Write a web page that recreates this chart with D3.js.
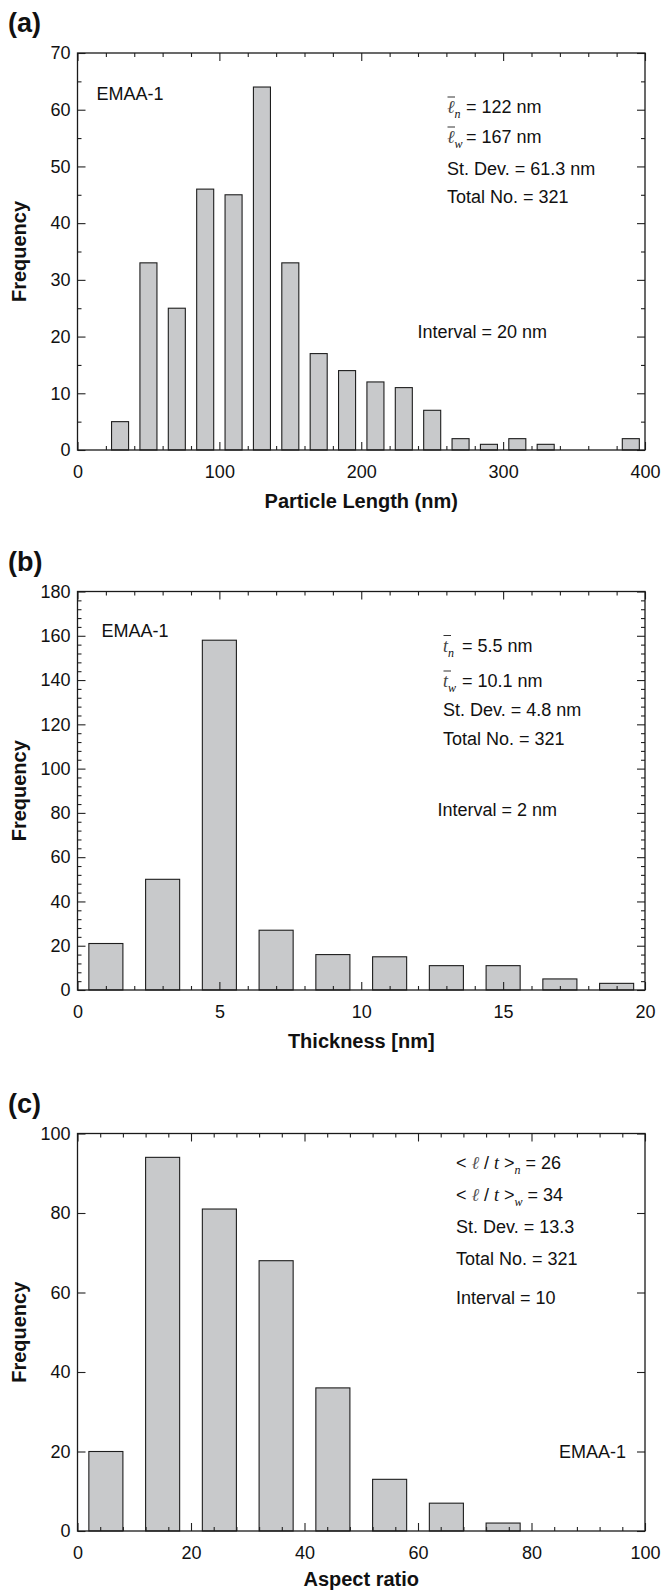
<!DOCTYPE html>
<html><head><meta charset="utf-8">
<script src="https://cdn.jsdelivr.net/npm/d3@7/dist/d3.min.js"></script>
<style>
body{margin:0;background:#fff}
svg{display:block}
text{font-family:"Liberation Sans",Arial,Helvetica,sans-serif;fill:#111}
</style>
</head><body>
<svg id="chart" width="663" height="1591"></svg>
<script>
// ---- data ----
const lengthBins = [30,50,70,90,110,130,150,170,190,210,230,250,270,290,310,330,350,370,390];
const lengthFreq = [5,33,25,46,45,64,33,17,14,12,11,7,2,1,2,1,0,0,2];
const lengthXTicks = [0,100,200,300,400];
const lengthYTicks = [0,10,20,30,40,50,60,70];

const thickBins = [1,3,5,7,9,11,13,15,17,19];
const thickFreq = [21,50,158,27,16,15,11,11,5,3];
const thickXTicks = [0,5,10,15,20];
const thickYTicks = [0,20,40,60,80,100,120,140,160,180];

const aspectBins = [5,15,25,35,45,55,65,75];
const aspectFreq = [20,94,81,68,36,13,7,2];
const aspectXTicks = [0,20,40,60,80,100];
const aspectYTicks = [0,20,40,60,80,100];

const svg = d3.select("#chart");
svg.append("rect").attr("width",663).attr("height",1591).attr("fill","#fff");

const X0 = 77.5, X1 = 645;
const SERIF = "'Liberation Serif','Times New Roman',serif";

const panels = [
  {label:"(a)", bins:lengthBins, freq:lengthFreq, interval:20, xTicks:lengthXTicks, yTicks:lengthYTicks,
   xMinor:20, yMinor:5, top:53, bottom:450, title:"Particle Length (nm)", gap:58},
  {label:"(b)", bins:thickBins, freq:thickFreq, interval:2, xTicks:thickXTicks, yTicks:thickYTicks,
   xMinor:1, yMinor:4, top:591.5, bottom:990, title:"Thickness [nm]", gap:58},
  {label:"(c)", bins:aspectBins, freq:aspectFreq, interval:10, xTicks:aspectXTicks, yTicks:aspectYTicks,
   xMinor:4, yMinor:null, top:1133.5, bottom:1531, title:"Aspect ratio", gap:55}
];

const scales = panels.map(p => {
  const g = svg.append("g");
  const xd = [p.xTicks[0], p.xTicks[p.xTicks.length-1]];
  const yd = [p.yTicks[0], p.yTicks[p.yTicks.length-1]];
  const x = d3.scaleLinear().domain(xd).range([X0, X1]);
  const y = d3.scaleLinear().domain(yd).range([p.bottom, p.top]);
  const hw = p.interval * 0.3;

  // bars
  g.selectAll("rect.bar").data(p.bins.map((b,i)=>({b, f:p.freq[i]})).filter(d=>d.f>0))
    .join("rect").attr("class","bar")
    .attr("x", d=>x(d.b-hw)).attr("width", d=>x(d.b+hw)-x(d.b-hw))
    .attr("y", d=>y(d.f)).attr("height", d=>y(0)-y(d.f))
    .attr("fill","#c8c9cb").attr("stroke","#1e1e1e").attr("stroke-width",1.1);

  const minorX = d3.range(xd[0], xd[1]+1e-9, p.xMinor).filter(v=>!p.xTicks.includes(v));
  const minorY = p.yMinor ? d3.range(yd[0], yd[1]+1e-9, p.yMinor).filter(v=>!p.yTicks.includes(v)) : [];

  function addAxis(gen, tr, vals, size, labels, pad){
    const a = g.append("g").attr("transform", tr)
      .call(gen.tickValues(vals).tickSize(size).tickPadding(pad||3).tickFormat(labels ? d3.format("d") : ""));
    a.select(".domain").remove();
    a.selectAll("line").attr("stroke","#222").attr("stroke-width",1.1);
    a.selectAll("text").style("font-size","18px").attr("fill","#111")
      .style("font-family","'Liberation Sans',Arial,sans-serif");
    return a;
  }
  // bottom
  addAxis(d3.axisBottom(x), `translate(0,${p.bottom})`, p.xTicks, -8, true, 15.5);
  addAxis(d3.axisBottom(x), `translate(0,${p.bottom})`, minorX, -4, false);
  // top
  addAxis(d3.axisTop(x), `translate(0,${p.top})`, p.xTicks, -8, false);
  addAxis(d3.axisTop(x), `translate(0,${p.top})`, minorX, -4, false);
  // left
  addAxis(d3.axisLeft(y), `translate(${X0},0)`, p.yTicks, -8, true, 7);
  if (minorY.length) addAxis(d3.axisLeft(y), `translate(${X0},0)`, minorY, -4, false);
  // right
  addAxis(d3.axisRight(y), `translate(${X1},0)`, p.yTicks, -8, false);
  if (minorY.length) addAxis(d3.axisRight(y), `translate(${X1},0)`, minorY, -4, false);

  // frame
  g.append("rect").attr("x",X0).attr("y",p.top).attr("width",X1-X0).attr("height",p.bottom-p.top)
    .attr("fill","none").attr("stroke","#1a1a1a").attr("stroke-width",1.3);

  // titles
  g.append("text").attr("x",(X0+X1)/2).attr("y",p.bottom+p.gap).attr("text-anchor","middle")
    .style("font-size","20px").style("font-weight","bold").text(p.title);
  g.append("text").attr("transform",`translate(26,${(p.top+p.bottom)/2}) rotate(-90)`)
    .attr("text-anchor","middle").style("font-size","20px").style("font-weight","bold").text("Frequency");
  g.append("text").attr("x",8).attr("y",p.top-21).style("font-size","27px").style("font-weight","bold").text(p.label);
  return {x,y,g};
});

// ---- annotations ----
function plain(g, x, y, s){
  return g.append("text").attr("x",x).attr("y",y).style("font-size","18px").text(s);
}
function barVar(g, x, y, sym, sub, rest){
  const t = g.append("text").attr("x",x).attr("y",y).style("font-size","18px");
  t.append("tspan").style("font-family",SERIF).style("font-style","italic").attr("fill","#444").text(sym);
  t.append("tspan").style("font-family",SERIF).style("font-style","italic").style("font-size","12px")
    .attr("dy",5).text(sub);
  t.append("tspan").attr("x",x+19).attr("dy",-5).text(rest);
  g.append("line").attr("x1",x+0.5).attr("x2",x+8).attr("y1",y-16).attr("y2",y-16)
    .attr("stroke","#333").attr("stroke-width",1);
}
function ratioVar(g, x, y, sub, rest){
  const t = g.append("text").attr("x",x).attr("y",y).style("font-size","18px");
  t.append("tspan").text("< ");
  t.append("tspan").style("font-family",SERIF).style("font-style","italic").attr("fill","#555").text("ℓ");
  t.append("tspan").text(" / ");
  t.append("tspan").style("font-family",SERIF).style("font-style","italic").text("t");
  t.append("tspan").text(" >");
  t.append("tspan").style("font-family",SERIF).style("font-style","italic").style("font-size","12px")
    .attr("dy",5).text(sub);
  t.append("tspan").attr("dy",-5).text(" = " + rest);
}

const ga = scales[0].g, gb = scales[1].g, gc = scales[2].g;
plain(ga, 96.5, 99.5, "EMAA-1");
barVar(ga, 447, 113, "ℓ", "n", "= 122 nm");
barVar(ga, 447, 143, "ℓ", "w", "= 167 nm");
plain(ga, 447, 175, "St. Dev. = 61.3 nm");
plain(ga, 447, 203, "Total No. = 321");
plain(ga, 417.5, 337.5, "Interval = 20 nm");

plain(gb, 101.5, 637, "EMAA-1");
barVar(gb, 443, 651.5, "t", "n", "= 5.5 nm");
barVar(gb, 443, 687, "t", "w", "= 10.1 nm");
plain(gb, 443, 716, "St. Dev. = 4.8 nm");
plain(gb, 443, 745, "Total No. = 321");
plain(gb, 437.5, 816, "Interval = 2 nm");

ratioVar(gc, 456, 1169, "n", "26");
ratioVar(gc, 456, 1201, "w", "34");
plain(gc, 456, 1233, "St. Dev. = 13.3");
plain(gc, 456, 1265, "Total No. = 321");
plain(gc, 456, 1304, "Interval = 10");
plain(gc, 559, 1458, "EMAA-1");
</script>
</body></html>
